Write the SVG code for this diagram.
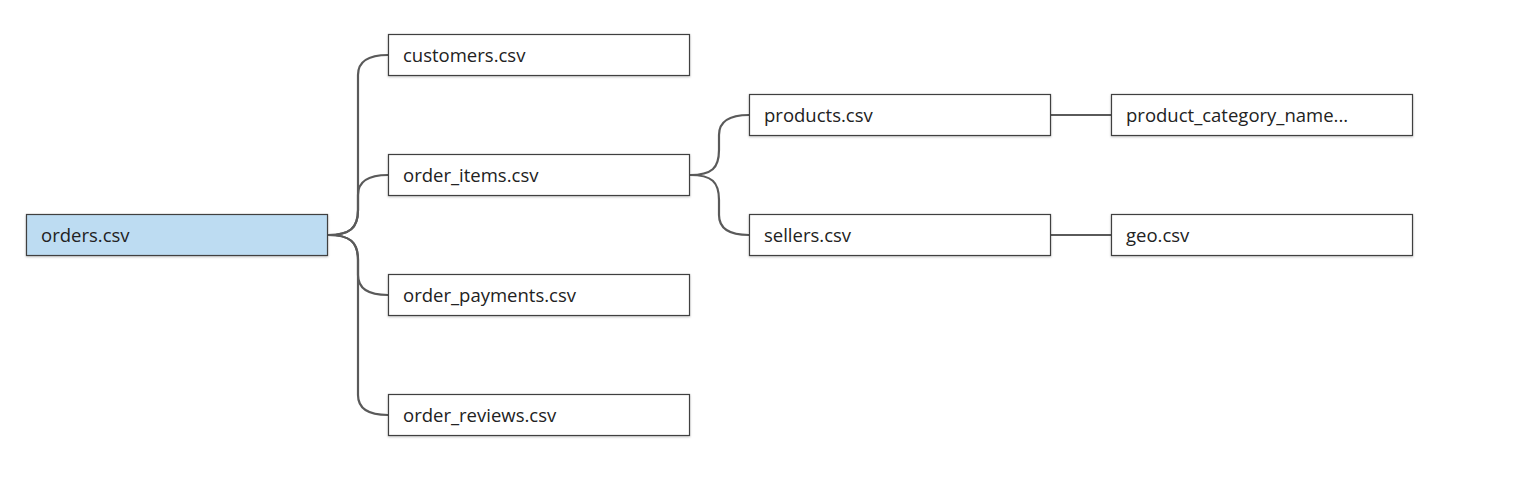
<svg xmlns="http://www.w3.org/2000/svg" width="1535" height="480" viewBox="0 0 1535 480">
<style>
.box{fill:#ffffff;stroke:#404040;stroke-width:1.2;filter:url(#sh)}
.root{fill:#bddcf2}
.lbl{font-family:"Open Sans",Lato,sans-serif;font-size:18.5px;fill:#222}
.con{fill:none;stroke:#5a5a5a;stroke-width:2.2}
</style>
<defs>
<filter id="sh" x="-5%" y="-20%" width="110%" height="150%">
<feDropShadow dx="0" dy="1" stdDeviation="0.8" flood-color="#000" flood-opacity="0.25"/>
</filter>
</defs>
<rect width="1535" height="480" fill="#ffffff"/>
<g id="connectors">
<path class="con" d="M328,235 C350,235 358,228 358,210 L358,75 C358,62 368,55 388,55"/>
<path class="con" d="M328,235 C350,235 358,228 358,210 L358,195 C358,182 368,175 388,175"/>
<path class="con" d="M328,235 C350,235 358,242 358,260 L358,275 C358,288 368,295 388,295"/>
<path class="con" d="M328,235 C350,235 358,242 358,260 L358,395 C358,408 368,415 388,415"/>
<path class="con" d="M690,175 C712,175 719,168 719,150 L719,135 C719,122 729,115 749,115"/>
<path class="con" d="M690,175 C712,175 719,182 719,200 L719,215 C719,228 729,235 749,235"/>
<path class="con" d="M1051,115 L1111,115"/>
<path class="con" d="M1051,235 L1111,235"/>
</g>
<g id="orders"><rect class="box root" x="26.5" y="214.5" width="301" height="41"/><text class="lbl" x="41" y="242">orders.csv</text></g>
<g id="customers"><rect class="box" x="388.5" y="34.5" width="301" height="41"/><text class="lbl" x="403" y="62">customers.csv</text></g>
<g id="order_items"><rect class="box" x="388.5" y="154.5" width="301" height="41"/><text class="lbl" x="403" y="182">order_items.csv</text></g>
<g id="order_payments"><rect class="box" x="388.5" y="274.5" width="301" height="41"/><text class="lbl" x="403" y="302">order_payments.csv</text></g>
<g id="order_reviews"><rect class="box" x="388.5" y="394.5" width="301" height="41"/><text class="lbl" x="403" y="422">order_reviews.csv</text></g>
<g id="products"><rect class="box" x="749.5" y="94.5" width="301" height="41"/><text class="lbl" x="764" y="122">products.csv</text></g>
<g id="sellers"><rect class="box" x="749.5" y="214.5" width="301" height="41"/><text class="lbl" x="764" y="242">sellers.csv</text></g>
<g id="product_category"><rect class="box" x="1111.5" y="94.5" width="301" height="41"/><text class="lbl" x="1126" y="122">product_category_name...</text></g>
<g id="geo"><rect class="box" x="1111.5" y="214.5" width="301" height="41"/><text class="lbl" x="1126" y="242">geo.csv</text></g>
</svg>
